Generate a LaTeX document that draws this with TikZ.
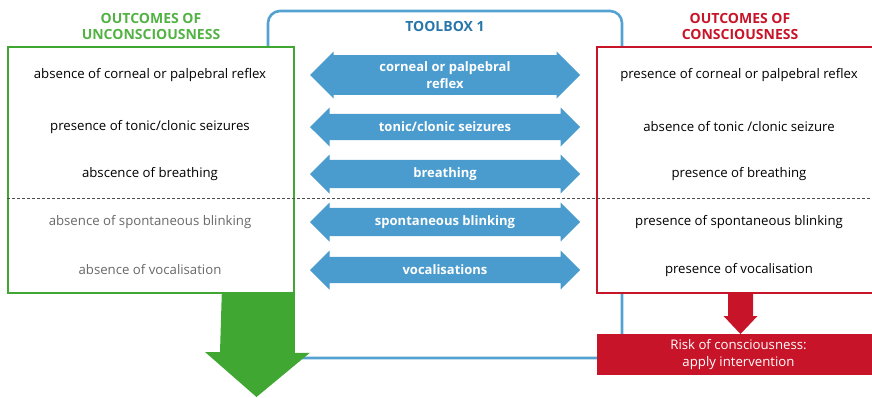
\documentclass[tikz,border=0pt]{standalone}
\usepackage{fontspec}
\setmainfont{Open Sans}
\usetikzlibrary{
  calc,
  shapes.arrows,
}

\definecolor{uncol}{RGB}{64,168,50}
\definecolor{unhead}{RGB}{82,178,68}
\definecolor{concol}{RGB}{200,20,40}
\definecolor{toolcol}{RGB}{74,155,206}
\definecolor{framecol}{RGB}{84,162,210}
\definecolor{tooltext}{RGB}{40,118,170}
\definecolor{greytext}{RGB}{105,105,105}

\begin{document}
\begin{tikzpicture}[
    x=1pt, y=-1pt,
    outbox/.style={draw, line width=1.6pt, fill=white, minimum height=246pt},
    lab/.style={font=\fontsize{13.2}{16}\selectfont, align=center},
    head/.style={font=\fontsize{14}{16}\selectfont\bfseries, align=center},
    tool/.style={double arrow, double arrow head extend=2.5pt,
        double arrow tip angle=90, fill=toolcol, text=white, inner sep=0pt,
        minimum height=270pt, align=center,
        font=\fontsize{13}{17}\selectfont\bfseries},
  ]
  \clip (0,0) rectangle (872,397);

  % toolbox frame, behind both outcome boxes
  \draw[framecol, line width=2.6pt, fill=white, rounded corners=12pt]
  (268,11) rectangle (622,358);
  \node[head, text=tooltext] (tb) at (445,26) {TOOLBOX 1};

  \node[head, text=unhead] (unhd) at (151,26) {OUTCOMES OF\\UNCONSCIOUSNESS};
  \node[head, text=concol] (conhd) at (740,26) {OUTCOMES OF\\CONSCIOUSNESS};

  \node[outbox, draw=uncol, minimum width=286pt] (unc) at (151,170) {};
  \node[outbox, draw=concol, minimum width=283pt] (con) at (738.5,170) {};

  \foreach \i/\y/\w/\c/\l/\t/\r in {
      1/75/47/black/{absence of corneal or palpebral reflex}/{corneal or palpebral\\reflex}/{presence of corneal or palpebral reflex},
      2/127/39/black/{presence of tonic/clonic seizures}/{tonic/clonic seizures}/{absence of tonic /clonic seizure},
      3/174/39/black/{abscence of breathing}/{breathing}/{presence of breathing},
      4/222/39/greytext/{absence of spontaneous blinking}/{spontaneous blinking}/{presence of spontaneous blinking},
      5/270/39/greytext/{absence of vocalisation}/{vocalisations}/{presence of vocalisation}} {
      \node[lab, text=\c] (l\i) at (150,\y) {\l};
      \node[tool, minimum width=\w pt] (t\i) at (445,\y) {\t};
      \node[lab] (r\i) at (739,\y) {\r};
    }

  \draw[black!70, line width=0.9pt, dash pattern=on 3pt off 2pt]
  (unc.west |- 0,198) -- (872,198);

  % outcome arrows
  \node[fill=concol, text=white, lab, minimum width=283pt, minimum height=41pt,
    inner sep=0pt, font=\fontsize{13.2}{17}\selectfont] (risk) at (738.5,354.5)
  {Risk of consciousness:\\apply intervention};

  \coordinate (gtip) at (256.5,397);
  \coordinate (rtip) at (740.5,334);
  \fill[uncol] ($(unc.south east)+(-73,-0.8)$) -- ($(unc.south east)+(0,-0.8)$)
  -- ++(0,59.8) -- ++(15,0) -- (gtip) -- ++(-51.5,-45) -- ++(15,0) -- cycle;
  \fill[concol] (rtip) -- ++(-17,-18) -- ++(4.5,0) -- ++(0,-23.8)
  -- ++(25,0) -- ++(0,23.8) -- ++(4.5,0) -- cycle;
\end{tikzpicture}
\end{document}
